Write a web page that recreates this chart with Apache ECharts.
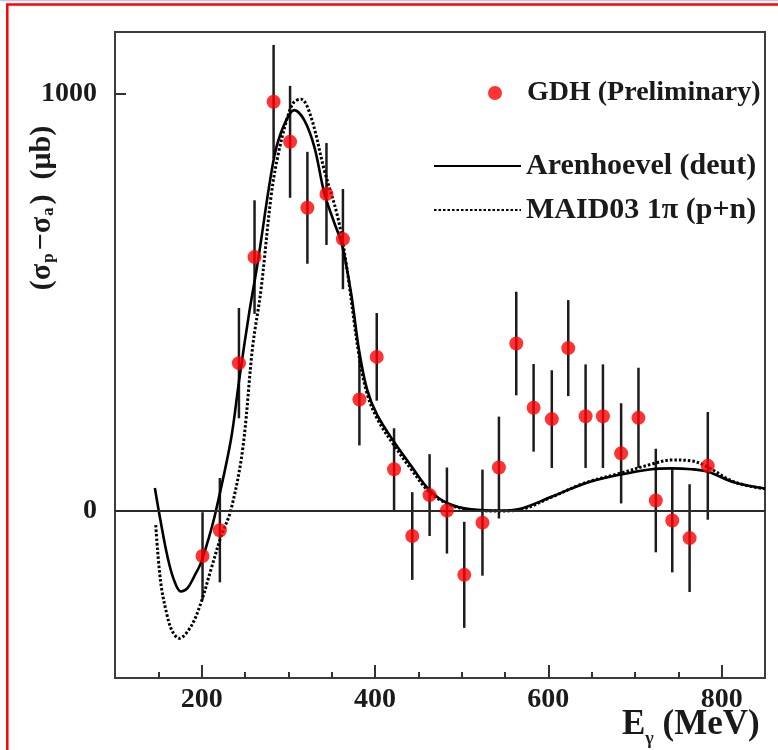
<!DOCTYPE html>
<html>
<head>
<meta charset="utf-8">
<script src="https://cdn.jsdelivr.net/npm/echarts@6/dist/echarts.min.js"></script>
<style>
  html, body { margin: 0; padding: 0; background: #ffffff; }
  #chart { width: 778px; height: 750px; }
</style>
</head>
<body>
<div id="chart"></div>
<script>
// GDH measurement: photon energy (MeV), helicity difference (microbarn), statistical error
const energies = [201, 221, 243, 261, 283, 302, 322, 344, 363, 382, 402, 422, 443, 463, 483,
                  503, 524, 543, 563, 583, 604, 623, 643, 663, 684, 704, 724, 743, 763, 784];
const gdhValues = [-108, -46, 354, 608, 980, 884, 726, 759, 651, 267, 369, 100, -60, 38, 1,
                   -153, -28, 104, 401, 247, 220, 390, 227, 227, 138, 223, 25, -23, -65, 108];
const gdhErrors = [105, 125, 132, 136, 136, 134, 134, 122, 120, 110, 105, 98, 105, 98, 103,
                   127, 127, 122, 124, 105, 117, 115, 124, 124, 120, 120, 124, 124, 129, 129];

// Arenhoevel deuteron calculation
const arenEnergy = [146, 153, 160.5, 168, 176, 183.6, 191.3, 199, 208.6, 216.4, 233.7, 243.3, 254.8,
                    264.6, 283.7, 295, 307, 318.4, 330, 341.5, 352.7, 362, 372.4, 381.6, 391, 402.5,
                    422.1, 441.7, 462.9, 484.2, 511, 545.8, 565, 603.6, 642, 680.6, 719, 742, 765,
                    784, 815, 850];
const arenValue = [55, -29, -109, -165, -193, -185, -157, -125, -62, 0, 170, 314, 474,
                   594, 848, 924, 960, 936, 872, 761, 692, 637, 522, 385, 290, 230,
                   165, 108, 50, 18, 4, 1, 4, 34, 66, 86, 100, 102, 100,
                   94, 68, 54];

// MAID03 single-pion model, proton + neutron
const maidEnergy = [147, 152.8, 160.5, 166.6, 174, 187.5, 199, 210.6, 222.2, 233.7, 247.2, 258.8,
                    268.4, 280, 287.7, 299.2, 306.5, 314.6, 326.1, 341.5, 357, 366.6, 381.6, 391,
                    403.3, 422.1, 441.7, 462.9, 484.2, 511, 545.8, 565, 603.6, 642, 680.6, 719,
                    742, 765, 784, 815, 850];
const maidValue = [-34, -172, -253, -290, -305, -277, -221, -141, -62, 2, 146, 393,
                   529, 752, 848, 944, 979, 986, 944, 816, 704, 594, 372, 280,
                   218, 157, 100, 45, 17, 2, 0, 2, 33, 67, 89, 112,
                   122, 120, 105, 69, 53];

// Axis ticks and labels
const xMajorTicks = [200, 400, 600, 800];
const xMinorTicks = [150, 250, 300, 350, 450, 500, 550, 650, 700, 750];
const yTickLabels = [0, 1000];
const yMajorTicks = [1000];

const serif = '"Liberation Serif", "DejaVu Serif", serif';
const ink = '#1a1a1a';

const chart = echarts.init(document.getElementById('chart'));

const errorBarData = energies.map((e, i) => [e, gdhValues[i] - gdhErrors[i], gdhValues[i] + gdhErrors[i]]);

const hiddenLegendSymbol = { color: 'rgba(0,0,0,0)', borderColor: 'rgba(0,0,0,0)', borderWidth: 0 };

chart.setOption({
  animation: false,
  backgroundColor: '#ffffff',
  grid: {
    left: 115, right: 13, top: 32, bottom: 72,
    outerBoundsMode: 'none',
    containLabel: false,
    show: true, borderColor: '#3c3c3c', borderWidth: 2, backgroundColor: 'transparent'
  },
  xAxis: [
    {
      type: 'value', min: 100, max: 850, position: 'bottom',
      axisLine: { show: false, onZero: false },
      splitLine: { show: false },
      axisTick: { customValues: xMajorTicks, inside: true, length: 13, lineStyle: { color: '#333', width: 2 } },
      axisLabel: { customValues: xMajorTicks, formatter: v => String(v), fontFamily: serif, fontWeight: 'bold', fontSize: 28, color: ink, margin: 8 },
      name: '{e|E}{g|γ}{e| (MeV)}',
      nameLocation: 'end',
      nameGap: -143,
      nameMoveOverlap: false,
      nameTextStyle: {
        align: 'left', verticalAlign: 'top', padding: [27, 0, 0, 0],
        rich: {
          e: { fontFamily: serif, fontWeight: 'bold', fontSize: 35, color: ink, lineHeight: 37, verticalAlign: 'bottom' },
          g: { fontFamily: serif, fontWeight: 'bold', fontSize: 18, color: ink, verticalAlign: 'bottom', padding: [0, 0, -6, 0] }
        }
      }
    },
    {
      type: 'value', min: 100, max: 850, position: 'bottom',
      axisLine: { show: false, onZero: false },
      splitLine: { show: false },
      axisTick: { customValues: xMinorTicks, inside: true, length: 6, lineStyle: { color: '#333', width: 2 } },
      axisLabel: { show: false }
    }
  ],
  yAxis: {
    type: 'value', min: -400, max: 1147,
    axisLine: { show: false, onZero: false },
    splitLine: { show: false },
    axisTick: { customValues: yMajorTicks, inside: true, length: 11, lineStyle: { color: '#333', width: 2 } },
    axisLabel: { customValues: yTickLabels, formatter: v => String(v), fontFamily: serif, fontWeight: 'bold', fontSize: 28, color: ink, margin: 18 },
    name: '(σ{s|p}−σ{s|a})  (μb)',
    nameLocation: 'middle',
    nameRotate: 90,
    nameGap: 58,
    nameMoveOverlap: false,
    nameTextStyle: {
      fontFamily: serif, fontWeight: 'bold', fontSize: 30, color: ink, lineHeight: 30,
      padding: [0, 0, 0, 294],
      rich: {
        s: { fontFamily: serif, fontWeight: 'bold', fontSize: 17, color: ink, verticalAlign: 'bottom', lineHeight: 30, padding: [0, 3, 0, 1] }
      }
    }
  },
  legend: [
    {
      data: [{ name: 'GDH (Preliminary)', icon: 'circle' }],
      left: 488, top: 79, padding: 0, selectedMode: false,
      itemWidth: 14, itemHeight: 14,
      textStyle: { fontFamily: serif, fontWeight: 'bold', fontSize: 28, color: ink, padding: [0, 0, 0, 20] }
    },
    {
      data: ['Arenhoevel (deut)'],
      left: 433, top: 151, padding: 0, selectedMode: false,
      itemWidth: 87, itemHeight: 14,
      itemStyle: hiddenLegendSymbol,
      textStyle: { fontFamily: serif, fontWeight: 'bold', fontSize: 30, color: ink }
    },
    {
      data: ['MAID03 1π (p+n)'],
      left: 433, top: 195, padding: 0, selectedMode: false,
      itemWidth: 87, itemHeight: 14,
      itemStyle: hiddenLegendSymbol,
      textStyle: { fontFamily: serif, fontWeight: 'bold', fontSize: 30, color: ink }
    }
  ],
  graphic: [
    { type: 'line', shape: { x1: 0, y1: 0.5, x2: 778, y2: 0.5 }, style: { stroke: '#c4c4ee', lineWidth: 1.5 }, silent: true },
    { type: 'line', shape: { x1: 6, y1: 4.5, x2: 778, y2: 4.5 }, style: { stroke: '#ff0000', lineWidth: 2.5 }, silent: true },
    { type: 'line', shape: { x1: 7.3, y1: 4, x2: 7.3, y2: 750 }, style: { stroke: '#ff0000', lineWidth: 2.5 }, silent: true }
  ],
  series: [
    {
      name: 'errors',
      type: 'custom',
      xAxisIndex: 0,
      z: 2,
      silent: true,
      data: errorBarData,
      renderItem: function (params, api) {
        const x = api.value(0);
        const lo = api.coord([x, api.value(1)]);
        const hi = api.coord([x, api.value(2)]);
        return {
          type: 'line',
          shape: { x1: lo[0], y1: lo[1], x2: hi[0], y2: hi[1] },
          style: { stroke: '#1c1c1c', lineWidth: 2.5 }
        };
      },
      markLine: {
        silent: true,
        symbol: ['none', 'none'],
        label: { show: false },
        lineStyle: { color: '#2a2a2a', width: 2, type: 'solid' },
        data: [{ yAxis: 0 }]
      }
    },
    {
      name: 'Arenhoevel (deut)',
      type: 'line',
      xAxisIndex: 0,
      z: 3,
      smooth: 0.35,
      symbol: 'none',
      lineStyle: { color: '#000000', width: 2.6 },
      itemStyle: { color: '#000000' },
      data: arenEnergy.map((e, i) => [e, arenValue[i]])
    },
    {
      name: 'MAID03 1π (p+n)',
      type: 'line',
      xAxisIndex: 0,
      z: 3,
      smooth: 0.35,
      symbol: 'none',
      lineStyle: { color: '#000000', width: 3, type: [2.5, 2] },
      itemStyle: { color: '#000000' },
      data: maidEnergy.map((e, i) => [e, maidValue[i]])
    },
    {
      name: 'GDH (Preliminary)',
      type: 'scatter',
      xAxisIndex: 0,
      z: 5,
      symbol: 'circle',
      symbolSize: 14,
      itemStyle: { color: '#ff0000' },
      data: energies.map((e, i) => [e, gdhValues[i]])
    }
  ]
});
</script>
</body>
</html>
